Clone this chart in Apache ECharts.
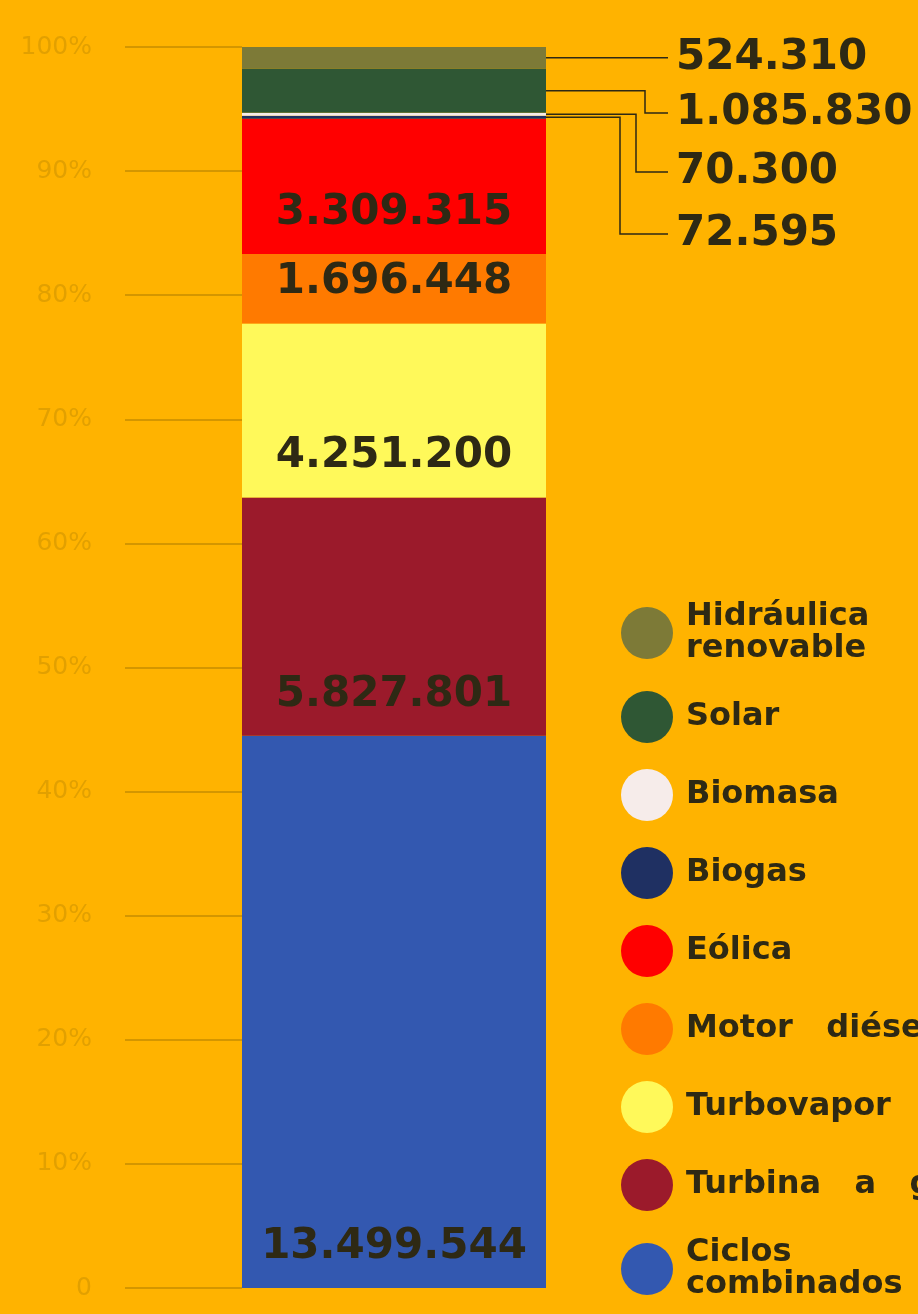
<!DOCTYPE html>
<html>
<head>
<meta charset="utf-8">
<script src="https://cdn.jsdelivr.net/npm/echarts@6/dist/echarts.min.js"></script>
<style>
  html, body { margin: 0; padding: 0; background: #ffb300; }
  #main { width: 918px; height: 1314px; }
</style>
</head>
<body>
<div id="main"></div>
<script>
// generation by source, bottom of the stack first
const sources = ["Ciclos combinados", "Turbina a gas", "Turbovapor", "Motor diésel", "Eólica", "Biogas", "Biomasa", "Solar", "Hidráulica renovable"];
const values = [13499544, 5827801, 4251200, 1696448, 3309315, 72595, 70300, 1085830, 524310];
const colors = ["#3358b0", "#9b1a2b", "#fff95a", "#ff7a00", "#ff0000", "#1f3062", "#f6ecea", "#2f5734", "#7d7a37"];
const legendOrder = ["Hidráulica renovable", "Solar", "Biomasa", "Biogas", "Eólica", "Motor diésel", "Turbovapor", "Turbina a gas", "Ciclos combinados"];
const legendText = {
    "Hidráulica renovable": "Hidráulica\nrenovable",
    "Motor diésel": "Motor   diésel",
    "Turbina a gas": "Turbina   a   gas",
    "Ciclos combinados": "Ciclos\ncombinados"
};

// small slices get their label outside, to the right, with an elbow line
const outside = {
    "Hidráulica renovable": { y: 58, elbow: null },
    "Solar": { y: 113, elbow: 645 },
    "Biomasa": { y: 172, elbow: 636 },
    "Biogas": { y: 234, elbow: 620 }
};

const W = 918, gridLeft = 242, gridRight = 372;
const ink = "#2e2914";
const total = values.reduce((a, b) => a + b, 0);
const fmt = (v) => String(v).replace(/\B(?=(\d{3})+(?!\d))/g, ".");

const chart = echarts.init(document.getElementById("main"));

const series = sources.map((name, i) => {
    const out = outside[name];
    return {
        name: name,
        type: "bar",
        stack: "total",
        barWidth: "100%",
        itemStyle: { color: colors[i] },
        data: [values[i] / total * 100],
        label: {
            show: true,
            position: out ? "right" : "insideBottom",
            distance: 20,
            formatter: () => fmt(values[i]),
            fontFamily: "DejaVu Sans",
            fontWeight: "bold",
            fontSize: 42,
            color: ink
        },
        labelLayout: out ? { x: 676, y: out.y, align: "left", verticalAlign: "middle" } : null,
        emphasis: { disabled: true }
    };
});

chart.setOption({
    backgroundColor: "#ffb300",
    animation: false,
    grid: { left: gridLeft, right: gridRight, top: 47, bottom: 26 },
    xAxis: { type: "category", data: [""], show: false },
    yAxis: {
        type: "value",
        min: 0,
        max: 100,
        interval: 10,
        axisLine: { show: false },
        splitLine: { show: false },
        axisTick: { show: true, length: 117, lineStyle: { color: "#d49600", width: 2 } },
        axisLabel: {
            margin: 150,
            fontFamily: "DejaVu Sans",
            fontSize: 25,
            color: "#e2a000",
            formatter: (v) => (v === 0 ? "0" : v + "%")
        }
    },
    legend: {
        orient: "vertical",
        left: 616,
        top: 596,
        icon: "circle",
        itemWidth: 52,
        itemHeight: 52,
        itemGap: 26,
        data: legendOrder,
        selectedMode: false,
        formatter: (n) => legendText[n] || n,
        textStyle: {
            fontFamily: "DejaVu Sans",
            fontWeight: "bold",
            fontSize: 32,
            lineHeight: 32,
            color: ink,
            padding: [0, 0, 0, 8]
        }
    },
    series: series
});

// leader lines for the thin top slices
const lines = [];
let cum = 0;
sources.forEach((name, i) => {
    const pct = values[i] / total * 100;
    const mid = cum + pct / 2;
    cum += pct;
    const out = outside[name];
    if (!out) return;
    const y = chart.convertToPixel({ gridIndex: 0 }, [0, mid])[1];
    const x0 = W - gridRight;
    const pts = out.elbow === null
        ? [[x0, y], [668, y]]
        : [[x0, y], [out.elbow, y], [out.elbow, out.y], [668, out.y]];
    lines.push({
        type: "polyline",
        shape: { points: pts },
        style: { stroke: ink, lineWidth: 1.5, fill: null },
        z: 10
    });
});
chart.setOption({ graphic: lines });
</script>
</body>
</html>
